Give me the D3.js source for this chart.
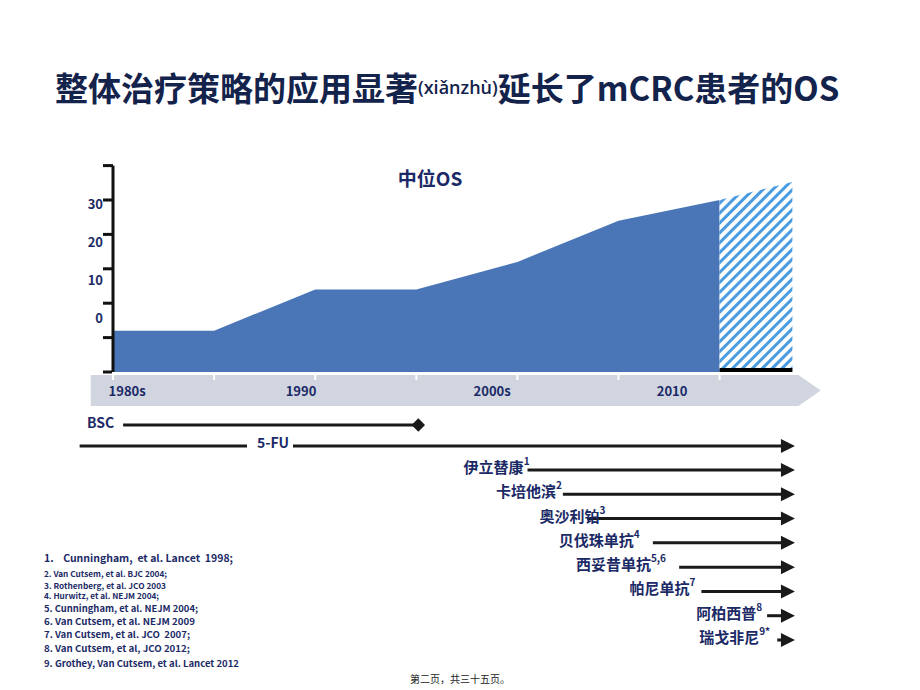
<!DOCTYPE html>
<html><head><meta charset="utf-8">
<script src="https://cdn.jsdelivr.net/npm/d3@7"></script>
<style>
html,body{margin:0;padding:0;background:#fff;}
svg{display:block;}
text{font-family:"Noto Sans CJK SC","Noto Sans",sans-serif;}
</style></head>
<body>
<svg id="c" width="920" height="690"></svg>
<script>
// ---- data ----
const osTime = [0, 1, 2, 3, 4, 5, 6];
const osMonths = [6, 6, 12, 12, 16, 22, 25];
const projTime = [6, 6.72];
const projMonths = [25, 27.6];
const yTickValues = [0, 5, 10, 15, 20, 25, 30];
const yLabelValues = [0, 10, 20, 30];
const eraLabels = ["1980s", "1990", "2000s", "2010"];
const eraTime = [0.14, 1.86, 3.75, 5.53];
const eraTicks = [0, 1, 2, 3, 4, 5, 6];
const drugNames = ["伊立替康", "卡培他滨", "奥沙利铂", "贝伐珠单抗", "西妥昔单抗", "帕尼单抗", "阿柏西普", "瑞戈非尼"];
const drugSup = ["1", "2", "3", "4", "5,6", "7", "8", "9*"];
const drugLabelEnd = [4.12, 4.44, 4.87, 5.21, 5.47, 5.76, 6.42, 6.50];
const drugStart = [4.10, 4.45, 4.69, 5.34, 5.60, 5.82, 6.47, 6.57];
const bscRange = [0.10, 3.02];
const fuStart = -0.33;
const refs = [
  "1.    Cunningham,  et al. Lancet  1998;",
  "2. Van Cutsem, et al. BJC 2004;",
  "3. Rothenberg, et al. JCO 2003",
  "4. Hurwitz, et al. NEJM 2004;",
  "5. Cunningham, et al. NEJM 2004;",
  "6. Van Cutsem, et al. NEJM 2009",
  "7. Van Cutsem, et al. JCO  2007;",
  "8. Van Cutsem, et al, JCO 2012;",
  "9. Grothey, Van Cutsem, et al. Lancet 2012"
];

// ---- layout ----
const svg = d3.select("#c");
const navy = "#1b2a66";
const x = d3.scaleLinear().domain([0, 7]).range([113, 820.7]);
const y = d3.scaleLinear().domain([0, 30]).range([372, 165.6]);
const yLab = d3.scaleLinear().domain([0, 30]).range([317, 203]);
const arrowEnd = 6.745;

// title
const title = svg.append("text").attr("x", 55).attr("y", 87)
  .attr("dominant-baseline", "central").attr("fill", "#13234b").attr("font-weight", 700);
title.append("tspan").attr("font-size", 33).text("整体治疗策略的应用显著");
title.append("tspan").attr("font-size", 18).attr("font-family", "Open Sans, sans-serif").attr("font-weight", 600).text("(xiǎnzhù)");
title.append("tspan").attr("font-size", 33).text("延长了mCRC患者的OS");

// pattern
const defs = svg.append("defs");
const pat = defs.append("pattern").attr("id", "hatch").attr("patternUnits", "userSpaceOnUse")
  .attr("width", 7).attr("height", 7).attr("patternTransform", "rotate(45)");
pat.append("rect").attr("width", 7).attr("height", 7).attr("fill", "#fff");
pat.append("rect").attr("x", 0).attr("width", 3).attr("height", 7).attr("fill", "#4a9be0");

// area
const area = d3.area().x(d => x(d[0])).y0(y(0)).y1(d => y(d[1]));
svg.append("path").datum(osTime.map((t, i) => [t, osMonths[i]]))
  .attr("d", area).attr("fill", "#4a76b8");
svg.append("path").datum(projTime.map((t, i) => [t, projMonths[i]]))
  .attr("d", area).attr("fill", "url(#hatch)");
svg.append("rect").attr("x", x(projTime[0])).attr("y", 368)
  .attr("width", x(projTime[1]) - x(projTime[0])).attr("height", 4).attr("fill", "#000");

// y axis
svg.append("line").attr("x1", x(0)).attr("x2", x(0)).attr("y1", y(30)).attr("y2", y(0))
  .attr("stroke", "#111").attr("stroke-width", 3);
svg.selectAll(".yt").data(yTickValues).join("line")
  .attr("x1", x(0) - 10).attr("x2", x(0)).attr("y1", d => y(d)).attr("y2", d => y(d))
  .attr("stroke", "#111").attr("stroke-width", 3);
svg.selectAll(".yl").data(yLabelValues).join("text")
  .attr("x", 103).attr("y", d => yLab(d)).attr("text-anchor", "end")
  .attr("dominant-baseline", "central").attr("font-size", 13).attr("font-weight", 700)
  .attr("fill", navy).text(d => d);

// chart title
svg.append("text").attr("x", 430).attr("y", 177).attr("text-anchor", "middle")
  .attr("dominant-baseline", "central").attr("font-size", 19).attr("font-weight", 700)
  .attr("fill", navy).text("中位OS");

// time band
const bandTop = 375, bandBot = 406, bandMid = (bandTop + bandBot) / 2;
svg.append("path").attr("d", d3.line()([
  [x(-0.22), bandTop], [x(6.78), bandTop], [x(7), bandMid], [x(6.78), bandBot], [x(-0.22), bandBot]
]) + "Z").attr("fill", "#d0d5e0");
svg.selectAll(".bt").data(eraTicks).join("line")
  .attr("x1", d => x(d)).attr("x2", d => x(d)).attr("y1", 372).attr("y2", 380)
  .attr("stroke", "#fff").attr("stroke-width", 2);
svg.selectAll(".el").data(eraLabels).join("text")
  .attr("x", (d, i) => x(eraTime[i])).attr("y", bandMid).attr("text-anchor", "middle")
  .attr("dominant-baseline", "central").attr("font-size", 13).attr("font-weight", 700)
  .attr("fill", navy).text(d => d);

// helpers
const lineCol = "#1a1a1a";
function arrow(yy, x0) {
  svg.append("line").attr("x1", x0).attr("x2", x(arrowEnd) - 12).attr("y1", yy).attr("y2", yy)
    .attr("stroke", lineCol).attr("stroke-width", 3);
  const tip = x(arrowEnd);
  svg.append("path").attr("d", d3.line()([[tip - 14, yy - 7], [tip, yy], [tip - 14, yy + 7]]) + "Z")
    .attr("fill", lineCol);
}

// BSC
const bscY = 425;
svg.append("text").attr("x", 87).attr("y", bscY - 3).attr("dominant-baseline", "central")
  .attr("font-size", 14).attr("font-weight", 700).attr("fill", navy).text("BSC");
svg.append("line").attr("x1", x(bscRange[0])).attr("x2", x(bscRange[1])).attr("y1", bscY).attr("y2", bscY)
  .attr("stroke", lineCol).attr("stroke-width", 3);
svg.append("path").attr("d", d3.symbol(d3.symbolSquare, 90)())
  .attr("transform", `translate(${x(bscRange[1])},${bscY}) rotate(45)`).attr("fill", lineCol);

// 5-FU
const fuY = 446;
svg.append("line").attr("x1", x(fuStart)).attr("x2", 247).attr("y1", fuY).attr("y2", fuY)
  .attr("stroke", lineCol).attr("stroke-width", 3);
svg.append("text").attr("x", 273).attr("y", fuY - 4).attr("text-anchor", "middle").attr("dominant-baseline", "central")
  .attr("font-size", 14).attr("font-weight", 700).attr("fill", navy).text("5-FU");
arrow(fuY, 293);

// drugs
const rowY = d3.scaleLinear().domain([0, 7]).range([470, 640]);
drugNames.forEach((name, i) => {
  const yy = rowY(i);
  arrow(yy, x(drugStart[i]));
  const t = svg.append("text").attr("x", x(drugLabelEnd[i])).attr("y", yy - 4)
    .attr("text-anchor", "end").attr("dominant-baseline", "central")
    .attr("font-size", 15).attr("font-weight", 700).attr("fill", navy);
  t.append("tspan").text(name);
  t.append("tspan").attr("font-size", 10).attr("dy", -6).text(drugSup[i]);
});

// references
const refY = [557, 573, 585, 595, 608, 621, 634, 648, 663];
const refSize = [10, 8, 8, 8, 9, 9, 9, 9, 9];
const refW = [189, 123, 122, 115, 154, 151, 146, 146, 195];
svg.selectAll(".rf").data(refs).join("text")
  .attr("x", 44).attr("y", (d, i) => refY[i]).attr("dominant-baseline", "central")
  .attr("font-family", "Lato, 'Open Sans', sans-serif")
  .attr("font-size", (d, i) => refSize[i]).attr("font-weight", (d, i) => i === 0 ? 700 : 600)
  .attr("textLength", (d, i) => refW[i]).attr("lengthAdjust", "spacingAndGlyphs")
  .attr("fill", navy).attr("xml:space", "preserve").style("white-space", "pre").text(d => d);

// footer
svg.append("text").attr("x", 460).attr("y", 678).attr("text-anchor", "middle")
  .attr("dominant-baseline", "central").attr("font-size", 10).attr("fill", "#222")
  .text("第二页，共三十五页。");
</script>
</body></html>
